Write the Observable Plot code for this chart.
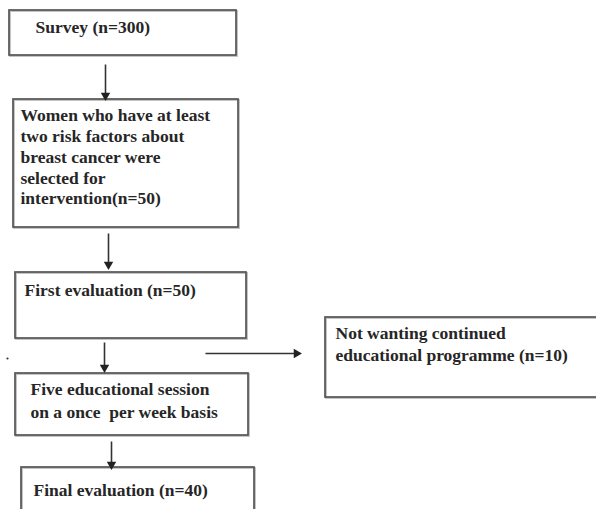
<!DOCTYPE html>
<html>
<head>
<meta charset="utf-8">
<script src="https://cdn.jsdelivr.net/npm/d3@7"></script>
<script src="https://cdn.jsdelivr.net/npm/@observablehq/plot@0.6"></script>
<style>
  html, body { margin: 0; padding: 0; background: #fff; }
  #chart svg { display: block; }
</style>
</head>
<body>
<div id="chart"></div>
<script>
// Flowchart steps (content)
const steps = ["survey", "selected", "first", "sessions", "final", "dropout"];
const stepLines = [
  ["Survey (n=300)"],
  ["Women who have at least", "two risk factors about", "breast cancer were", "selected for", "intervention(n=50)"],
  ["First evaluation (n=50)"],
  ["Five educational session", "on a once  per week basis"],
  ["Final evaluation (n=40)"],
  ["Not wanting continued", "educational programme (n=10)"]
];
const counts = [300, 50, 50, null, 40, 10];

// Layout of the boxes in picture coordinates
const boxLeft   = [9, 13, 15, 15, 21, 325];
const boxRight  = [236, 238, 246, 248, 254, 600];
const boxTop    = [10, 99, 272, 373, 467, 317];
const boxBottom = [55, 227, 338, 435, 515, 397];
const textLeft  = [35, 20, 24, 30, 33, 335];
const textFirstY = [27, 115, 290, 389, 490, 333];
const lineStep  = [0, 20.8, 0, 22.5, 0, 22];

// Connectors: from -> to
const linkFrom = ["survey", "selected", "first", "sessions", "first"];
const linkTo   = ["selected", "first", "sessions", "final", "dropout"];
const linkX1 = [105, 108, 104, 111, 205];
const linkY1 = [64, 233, 342, 441, 353];
const linkX2 = [105, 108, 104, 111, 296];
const linkY2 = [95, 264, 367, 464, 353];

const boxes = steps.map((s, i) => ({
  step: s, x1: boxLeft[i], x2: boxRight[i], y1: boxTop[i], y2: boxBottom[i]
}));
const texts = steps.flatMap((s, i) => stepLines[i].map((t, j) => ({
  step: s, text: t, x: textLeft[i], y: textFirstY[i] + j * lineStep[i]
})));
const links = linkFrom.map((f, i) => ({
  from: f, to: linkTo[i], x1: linkX1[i], y1: linkY1[i], x2: linkX2[i], y2: linkY2[i],
  rot: linkX1[i] === linkX2[i] ? 180 : 90
}));
const strayDot = [{x: 7, y: 358}];

const chart = Plot.plot({
  width: 596,
  height: 509,
  margin: 0,
  x: {domain: [0, 596], axis: null},
  y: {domain: [0, 509], axis: null, reverse: true},
  style: {background: "#fff"},
  marks: [
    // soft shadow of boxes
    Plot.rect(boxes, {x1: d => d.x1 + 1, x2: d => d.x2 + 1, y1: d => d.y1 + 1, y2: d => d.y2 + 1,
      fill: "none", stroke: "#c4c4c4", strokeWidth: 2}),
    Plot.rect(boxes, {x1: "x1", x2: "x2", y1: "y1", y2: "y2",
      fill: "none", stroke: "#555", strokeWidth: 1.7}),
    Plot.link(links, {x1: "x1", y1: "y1", x2: "x2", y2: "y2", stroke: "#333", strokeWidth: 1.6}),
    Plot.dot(links, {x: "x2", y: "y2", symbol: "triangle2", rotate: "rot", r: 4.5,
      fill: "#222", stroke: "none"}),
    Plot.dot(strayDot, {x: "x", y: "y", r: 1.1, fill: "#333", stroke: "none"}),
    Plot.text(texts, {x: "x", y: "y", text: "text", textAnchor: "start", lineAnchor: "middle",
      fontFamily: "Liberation Serif, serif", fontWeight: "bold", fontSize: 17.5, fill: "#262626"})
  ]
});
document.getElementById("chart").appendChild(chart);
</script>
</body>
</html>
